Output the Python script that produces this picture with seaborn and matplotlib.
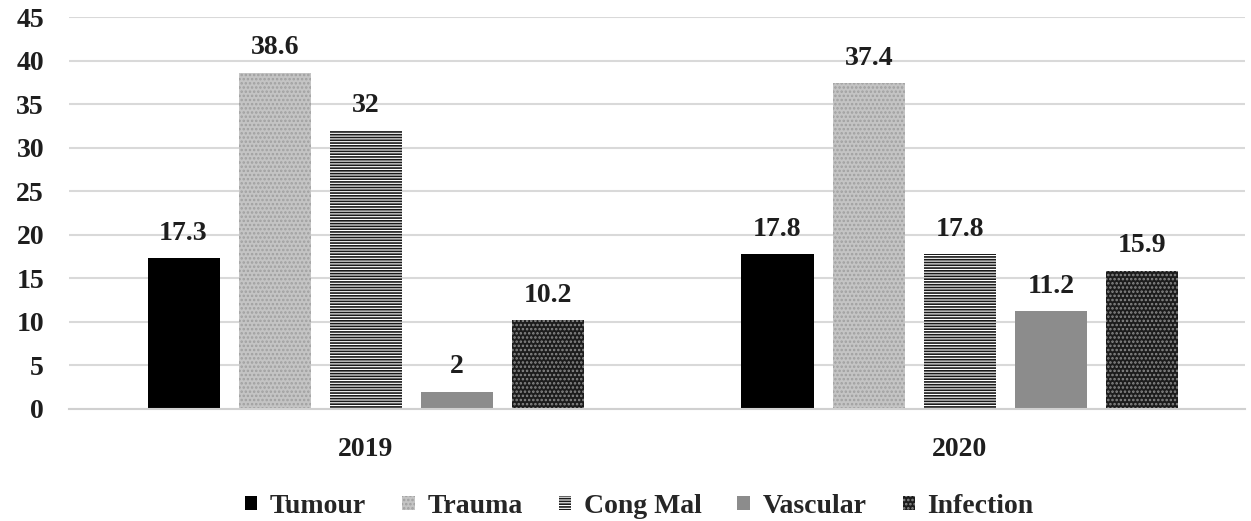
import matplotlib
matplotlib.use("Agg")
import matplotlib.pyplot as plt
from matplotlib.patches import Patch
import seaborn as sns
import pandas as pd

years = ["2019", "2020"]
categories = ["Tumour", "Trauma", "Cong Mal", "Vascular", "Infection"]
values_2019 = [17.3, 38.6, 32, 2, 10.2]
values_2020 = [17.8, 37.4, 17.8, 11.2, 15.9]
y_ticks = [0, 5, 10, 15, 20, 25, 30, 35, 40, 45]

df = pd.DataFrame({
    "year": [years[0]] * len(categories) + [years[1]] * len(categories),
    "category": categories * 2,
    "value": values_2019 + values_2020,
})

sns.set_theme(style="white")
plt.rcParams["font.family"] = ["Liberation Serif", "DejaVu Serif"]
plt.rcParams["font.weight"] = "bold"
plt.rcParams["hatch.linewidth"] = 1.2

FS = 20
TXT = "#1e1e1e"

fig = plt.figure(figsize=(12.51, 5.21), dpi=100)
ax = fig.add_axes([0.0552, 0.215, 0.940, 0.752])

# fill, hatch, hatch colour per category
styles = {
    "Tumour": ("#000000", "", "#000000"),
    "Trauma": ("#c4c4c4", "....", "#a0a0a0"),
    "Cong Mal": ("#ffffff", "------", "#1a1a1a"),
    "Vascular": ("#8c8c8c", "", "#8c8c8c"),
    "Infection": ("#1c1c1c", "....", "#8a8a8a"),
}

sns.barplot(data=df, x="year", y="value", hue="category", hue_order=categories,
            order=years, width=0.768, gap=0.21, ax=ax, legend=False,
            palette=[styles[c][0] for c in categories])

for cont, cat in zip(ax.containers, categories):
    face, hatch, hcol = styles[cat]
    for bar in cont:
        bar.set_facecolor(face)
        bar.set_hatch(hatch)
        bar.set_edgecolor(hcol)
        bar.set_linewidth(0)
    ax.bar_label(cont, labels=[f"{v:g}" for v in cont.datavalues], padding=9,
                 fontsize=FS, fontweight="bold", color=TXT)

ax.set_ylim(0, 45)
ax.set_yticks(y_ticks)
ax.set_yticklabels([str(t) for t in y_ticks], fontsize=FS, fontweight="bold", color=TXT)
ax.set_xlim(-0.5, 1.48)
ax.tick_params(axis="x", pad=20, labelsize=FS, colors=TXT, length=0)
ax.tick_params(axis="y", length=0, pad=18)
for lbl in ax.get_xticklabels():
    lbl.set_fontweight("bold")
ax.set_xlabel("")
ax.set_ylabel("")
ax.yaxis.grid(True, color="#d9d9d9", linewidth=1.5)
ax.set_axisbelow(True)
for side in ["top", "right", "left"]:
    ax.spines[side].set_visible(False)
ax.spines["bottom"].set_color("#d0d0d0")
ax.spines["bottom"].set_linewidth(1.5)

handles = [Patch(facecolor=styles[c][0], hatch=styles[c][1], edgecolor=styles[c][2],
                 linewidth=0) for c in categories]
fig.legend(handles, categories, loc="center", bbox_to_anchor=(0.511, 0.028), ncol=5,
           frameon=False, handlelength=0.45, handleheight=0.45,
           columnspacing=1.3, handletextpad=0.45,
           prop={"weight": "bold", "size": FS})

fig.savefig("out.png", dpi=100, facecolor="white")
